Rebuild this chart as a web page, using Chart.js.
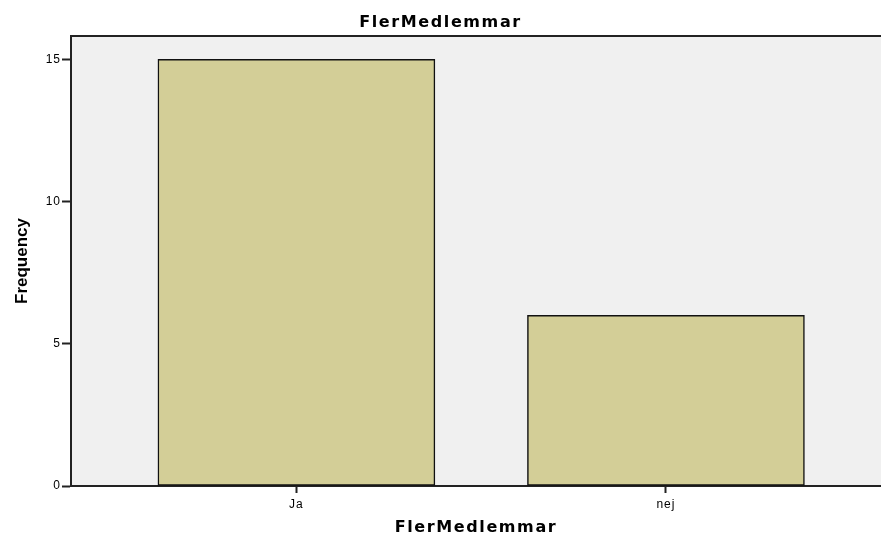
<!DOCTYPE html>
<html>
<head>
<meta charset="utf-8">
<script src="https://cdn.jsdelivr.net/npm/chart.js@4"></script>
<style>
  html, body { margin: 0; padding: 0; background: #ffffff; }
  #chart { display: block; }
</style>
</head>
<body>
<canvas id="chart" width="881" height="536"></canvas>
<script>
var CATEGORIES = ['Ja', 'nej'];
var FREQUENCY = [15, 6];
var Y_TICKS = [0, 5, 10, 15];

var FONT = "'Liberation Sans', Arial, sans-serif";
var FONT_WIDE = "'DejaVu Sans', 'Liberation Sans', Arial, sans-serif";

// sfondo grigio dell'area del grafico + linea superiore
var plotBackground = {
    id: 'plotBackground',
    beforeDraw: function (chart) {
        var a = chart.chartArea;
        var ctx = chart.ctx;
        ctx.save();
        ctx.fillStyle = '#f0f0f0';
        ctx.fillRect(a.left, a.top, a.right - a.left, a.bottom - a.top);
        ctx.strokeStyle = '#222222';
        ctx.lineWidth = 2;
        ctx.beginPath();
        ctx.moveTo(a.left, a.top);
        ctx.lineTo(a.right, a.top);
        ctx.stroke();
        ctx.restore();
        // spaziatura lettere (testo largo tipo SPSS)
        ctx.letterSpacing = '1px';
    }
};

// avvolge il disegno di un testo con una spaziatura diversa
function withSpacing(obj, method, spacing) {
    if (!obj || obj['_wrapped_' + method]) return;
    var orig = obj[method];
    obj[method] = function () {
        var ctx = this.ctx;
        var old = ctx.letterSpacing;
        ctx.letterSpacing = spacing;
        var r = orig.apply(this, arguments);
        ctx.letterSpacing = old;
        return r;
    };
    obj['_wrapped_' + method] = true;
}

var wideTitles = {
    id: 'wideTitles',
    beforeDraw: function (chart) {
        withSpacing(chart.titleBlock, 'draw', '1.6px');
        withSpacing(chart.scales.x, 'drawTitle', '1.6px');
        withSpacing(chart.scales.y, 'drawTitle', '0px');
    }
};

var points = CATEGORIES.map(function (c, i) {
    return { x: i, y: FREQUENCY[i] };
});

new Chart(document.getElementById('chart'), {
    type: 'bar',
    data: {
        datasets: [{
            label: 'Frequency',
            data: points,
            backgroundColor: '#d3ce97',
            borderColor: '#111111',
            borderWidth: 1.5,
            borderSkipped: false,
            barThickness: 277
        }]
    },
    options: {
        responsive: false,
        animation: false,
        layout: { padding: 0 },
        plugins: {
            legend: { display: false },
            tooltip: { enabled: false },
            title: {
                display: true,
                text: 'FlerMedlemmar',
                color: '#000000',
                font: { family: FONT_WIDE, size: 16, weight: 'bold' },
                padding: { top: 13, bottom: 3.8 }
            }
        },
        scales: {
            x: {
                type: 'linear',
                offset: false,
                min: -0.610,
                max: 1.582,
                afterBuildTicks: function (scale) {
                    scale.ticks = CATEGORIES.map(function (c, i) { return { value: i }; });
                },
                afterFit: function (scale) { scale.height = 50; },
                ticks: {
                    color: '#000000',
                    font: { family: FONT, size: 12 },
                    padding: 4,
                    maxRotation: 0,
                    callback: function (v) { return CATEGORIES[v]; }
                },
                grid: {
                    offset: false,
                    drawOnChartArea: false,
                    tickLength: 7,
                    tickWidth: 2,
                    color: '#222222'
                },
                border: { color: '#222222', width: 2 },
                title: {
                    display: true,
                    text: 'FlerMedlemmar',
                    color: '#000000',
                    font: { family: FONT_WIDE, size: 16, weight: 'bold' },
                    padding: { top: 0, bottom: -1 }
                }
            },
            y: {
                min: 0,
                max: 15.82,
                afterBuildTicks: function (scale) {
                    scale.ticks = Y_TICKS.map(function (v) { return { value: v }; });
                },
                afterFit: function (scale) { scale.width = 71; },
                ticks: {
                    color: '#000000',
                    font: { family: FONT, size: 12 },
                    padding: 1
                },
                grid: {
                    drawOnChartArea: false,
                    tickLength: 9,
                    tickWidth: 2,
                    color: '#222222'
                },
                border: { color: '#222222', width: 2 },
                title: {
                    display: true,
                    text: 'Frequency',
                    color: '#000000',
                    font: { family: FONT, size: 17, weight: 'bold' },
                    padding: { top: 12, bottom: 0 }
                }
            }
        }
    },
    plugins: [plotBackground, wideTitles]
});
</script>
</body>
</html>
